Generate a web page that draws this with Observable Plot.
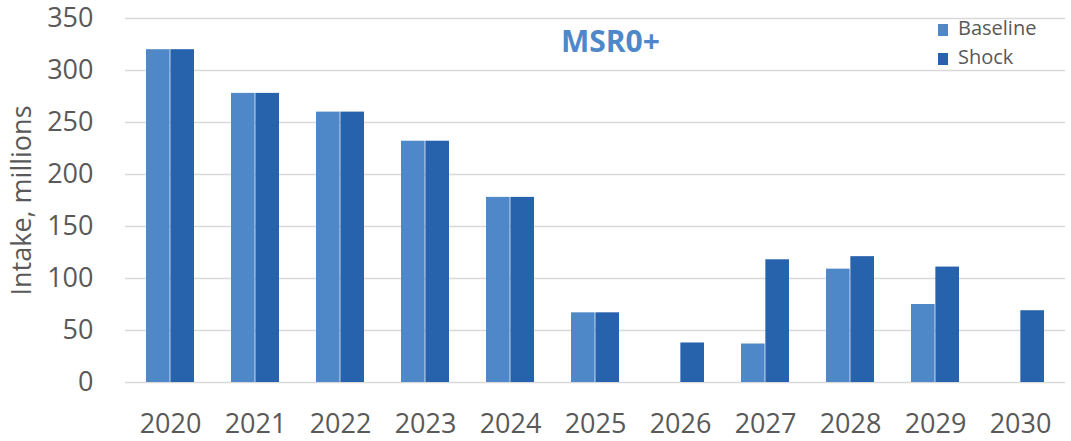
<!DOCTYPE html>
<html>
<head>
<meta charset="utf-8">
<script src="https://cdn.jsdelivr.net/npm/d3@7"></script>
<script src="https://cdn.jsdelivr.net/npm/@observablehq/plot@0.6"></script>
<style>
  html, body { margin: 0; padding: 0; background: #fff; }
  #wrap { position: relative; width: 1071px; height: 441px; font-family: "Open Sans", sans-serif; }
  #title { position: absolute; left: 561px; top: 20px; font-size: 30px; font-weight: bold; color: #4F88C8; }
  #legend { position: absolute; left: 938px; top: 13px; font-size: 20px; color: #595959; line-height: 29px; }
  .sw { display: inline-block; width: 10px; height: 12px; margin-right: 10px; vertical-align: -1px; }
</style>
</head>
<body>
<div id="wrap">
  <div id="chart"></div>
  <div id="title"></div>
  <div id="legend"></div>
</div>
<script>
const years = ["2020","2021","2022","2023","2024","2025","2026","2027","2028","2029","2030"];
const baseline = [320, 278, 260, 232, 178, 67, 0, 37, 109, 75, 0];
const shock = [320, 278, 260, 232, 178, 67, 38, 118, 121, 111, 69];
const seriesNames = ["Baseline", "Shock"];
const seriesColors = ["#4F88C8", "#2762AD"];
const yTicks = [0, 50, 100, 150, 200, 250, 300, 350];
const titleText = "MSR0+";
const yLabel = "Intake, millions";

const rows = years.map((y, i) => ({year: y, baseline: baseline[i], shock: shock[i]}));

const W = 1071, H = 441, mL = 125, mR = 6, mT = 18, mB = 59;
const padIn = 0.43;
const step = (W - mL - mR) / years.length;
const half = step * (1 - padIn) / 2;

const chart = Plot.plot({
  width: W, height: H,
  marginLeft: mL, marginRight: mR, marginTop: mT, marginBottom: mB,
  style: {fontFamily: "Open Sans, sans-serif", fontSize: "27px", color: "#595959", background: "#fff"},
  x: {domain: years, paddingInner: padIn, paddingOuter: padIn / 2, tickSize: 0, tickPadding: 31, label: null},
  y: {domain: [0, 350], ticks: yTicks, tickSize: 0, tickPadding: 32, label: null},
  marks: [
    Plot.gridY(yTicks, {stroke: "#d9d9d9", strokeOpacity: 1, strokeWidth: 1.5}),
    Plot.barY(rows, {x: "year", y: "baseline", fill: seriesColors[0], insetRight: half}),
    Plot.barY(rows, {x: "year", y: "shock", fill: seriesColors[1], insetLeft: half}),
    Plot.text([yLabel], {frameAnchor: "left", textAnchor: "middle", text: d => d, rotate: -90, dx: -103, fontSize: 27, fill: "#595959"})
  ]
});
document.getElementById("chart").appendChild(chart);
document.getElementById("title").textContent = titleText;
const leg = document.getElementById("legend");
seriesNames.forEach((n, i) => {
  const row = document.createElement("div");
  const sw = document.createElement("span");
  sw.className = "sw"; sw.style.background = seriesColors[i];
  row.appendChild(sw);
  row.appendChild(document.createTextNode(n));
  leg.appendChild(row);
});
</script>
</body>
</html>
